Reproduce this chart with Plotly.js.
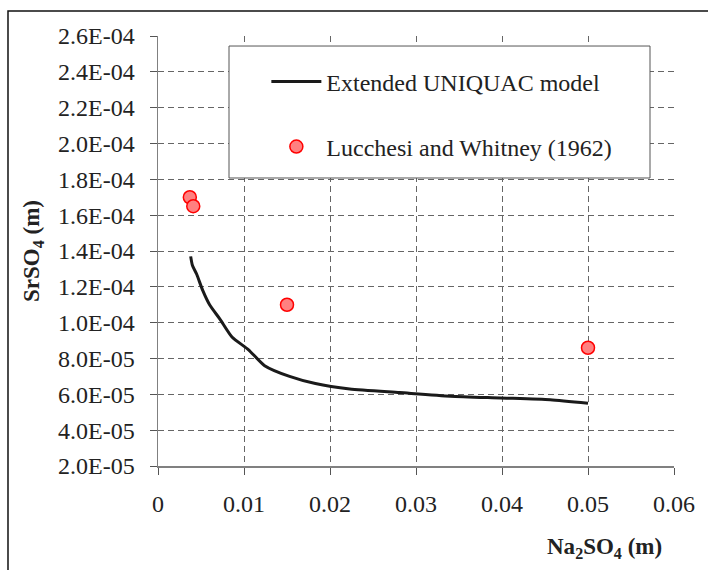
<!DOCTYPE html>
<html>
<head>
<meta charset="utf-8">
<script src="https://cdn.plot.ly/plotly-3.0.1.min.js"></script>
<style>
  html, body { margin: 0; padding: 0; background: #ffffff; }
  #chart { width: 708px; height: 570px; }
</style>
</head>
<body>
<div id="chart"></div>
<script>
// Extended UNIQUAC model curve: SrSO4 solubility vs Na2SO4 molality
const modelNa2SO4 = [0.0038, 0.0040, 0.0045, 0.0052, 0.0060, 0.0072, 0.0086, 0.0105, 0.0124, 0.0153, 0.0183, 0.0223, 0.0281, 0.0340, 0.0398, 0.0456, 0.0500];
const modelSrSO4  = [1.37e-4, 1.32e-4, 1.27e-4, 1.18e-4, 1.10e-4, 1.02e-4, 9.2e-5, 8.5e-5, 7.6e-5, 7.0e-5, 6.6e-5, 6.3e-5, 6.1e-5, 5.9e-5, 5.8e-5, 5.7e-5, 5.5e-5];

// Experimental points, Lucchesi and Whitney (1962)
const expNa2SO4 = [0.0037, 0.0041, 0.0150, 0.0500];
const expSrSO4  = [1.70e-4, 1.65e-4, 1.10e-4, 8.6e-5];

// Axis ticks
const xTickVals = [0, 0.01, 0.02, 0.03, 0.04, 0.05, 0.06];
const xTickText = ["0", "0.01", "0.02", "0.03", "0.04", "0.05", "0.06"];
const yTickVals = [2.0e-5, 4.0e-5, 6.0e-5, 8.0e-5, 1.0e-4, 1.2e-4, 1.4e-4, 1.6e-4, 1.8e-4, 2.0e-4, 2.2e-4, 2.4e-4, 2.6e-4];
const yTickText = ["2.0E-05", "4.0E-05", "6.0E-05", "8.0E-05", "1.0E-04", "1.2E-04", "1.4E-04", "1.6E-04", "1.8E-04", "2.0E-04", "2.2E-04", "2.4E-04", "2.6E-04"];

const serif = "'Liberation Serif', 'Times New Roman', serif";
const textColor = "#222222";

const traces = [
  {
    x: modelNa2SO4, y: modelSrSO4,
    type: "scatter", mode: "lines",
    name: "Extended UNIQUAC model",
    line: { color: "#1a1a1a", width: 3, shape: "spline", smoothing: 0.6 },
    legend: "legend"
  },
  {
    x: expNa2SO4, y: expSrSO4,
    type: "scatter", mode: "markers",
    name: "Lucchesi and Whitney (1962)",
    marker: { color: "#ff8080", size: 13, line: { color: "#ff0000", width: 1.5 } },
    legend: "legend2"
  }
];

const layout = {
  width: 708, height: 570,
  margin: { l: 158, r: 34, t: 36, b: 104 },
  paper_bgcolor: "#ffffff",
  plot_bgcolor: "#ffffff",
  font: { family: serif, color: textColor, size: 24 },
  showlegend: true,
  xaxis: {
    range: [0, 0.06],
    tickmode: "array", tickvals: xTickVals, ticktext: xTickText,
    tickfont: { family: serif, size: 24, color: textColor },
    ticks: "outside", ticklen: 7, tickcolor: "#555555", tickwidth: 1,
    showline: true, linecolor: "#808080", linewidth: 1.5,
    showgrid: true, gridcolor: "#666666", gridwidth: 1, griddash: "6px,4px",
    zeroline: false,
    ticklabelstandoff: 9
  },
  yaxis: {
    range: [2.0e-5, 2.6e-4],
    tickmode: "array", tickvals: yTickVals, ticktext: yTickText,
    tickfont: { family: serif, size: 24, color: textColor },
    ticks: "outside", ticklen: 7, tickcolor: "#555555", tickwidth: 1,
    showline: true, linecolor: "#808080", linewidth: 1.5,
    showgrid: true, gridcolor: "#666666", gridwidth: 1, griddash: "6px,4px",
    zeroline: false,
    ticklabelstandoff: 10,
    title: {
      text: "<b>SrSO<sub>4</sub> (m)</b>",
      font: { family: serif, size: 23, color: textColor },
      standoff: 12
    }
  },
  legend: {
    x: 0.21, y: 0.893, xanchor: "left", yanchor: "middle",
    bgcolor: "rgba(0,0,0,0)", borderwidth: 0,
    font: { family: serif, size: 24, color: textColor },
    itemwidth: 50
  },
  legend2: {
    x: 0.21, y: 0.742, xanchor: "left", yanchor: "middle",
    bgcolor: "rgba(0,0,0,0)", borderwidth: 0,
    font: { family: serif, size: 24, color: textColor },
    itemwidth: 50
  },
  annotations: [
    {
      text: "<b>Na<sub>2</sub>SO<sub>4</sub> (m)</b>",
      xref: "paper", yref: "paper",
      x: 0.866, y: -0.19, xanchor: "center", yanchor: "middle",
      showarrow: false,
      font: { family: serif, size: 23, color: textColor }
    }
  ],
  shapes: [
    // legend frame
    {
      type: "rect", xref: "paper", yref: "paper",
      x0: 0.1376, x1: 0.9535, y0: 0.6698, y1: 0.9767,
      fillcolor: "#ffffff", line: { color: "#555555", width: 1 },
      layer: "above"
    },
    // outer chart border (left and top)
    {
      type: "path", xref: "paper", yref: "paper",
      path: "M -0.2907,-0.26 L -0.2907,1.0581 L 1.08,1.0581",
      line: { color: "#111111", width: 1.5 },
      layer: "above"
    }
  ]
};

Plotly.newPlot("chart", traces, layout, { displayModeBar: false, staticPlot: true });
</script>
</body>
</html>
